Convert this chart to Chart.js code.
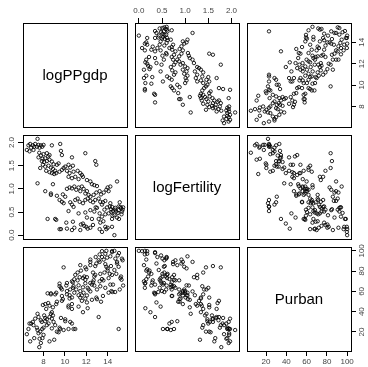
<!DOCTYPE html>
<html><head><meta charset="utf-8">
<script src="https://cdn.jsdelivr.net/npm/chart.js@4"></script>
<style>
html,body{margin:0;padding:0;background:#fff;}
#wrap{position:relative;width:368px;height:367px;overflow:hidden;background:#fff;}
#wrap canvas{position:absolute;left:0;top:0;}
</style>
</head><body><div id="wrap"></div>
<script>
// Variable names (diagonal labels)
const varNames = ['logPPgdp', 'logFertility', 'Purban'];

// Values
const logPPgdp = [
6.44,6.59,6.75,6.84,6.69,7.00,7.13,7.22,7.38,7.06,
7.44,7.44,7.53,7.63,7.75,7.88,7.53,7.75,7.84,7.94,
7.69,7.60,7.90,8.00,8.00,8.31,8.16,8.06,8.31,8.16,
8.47,8.25,8.16,8.38,8.44,8.78,8.56,8.56,8.78,8.94,
8.69,8.88,8.56,8.78,8.88,8.69,8.69,9.09,9.25,9.41,
9.00,9.19,9.25,9.09,9.19,9.56,9.63,9.72,9.50,9.72,
9.88,9.81,9.50,9.72,9.88,9.50,9.63,10.03,10.34,10.50,
10.19,10.44,10.34,10.03,10.19,10.44,10.50,10.34,10.13,10.19,
10.66,10.75,10.81,10.66,10.97,10.66,10.88,10.66,10.97,10.81,
10.75,10.66,10.88,11.19,11.44,11.28,11.06,11.28,11.44,11.19,
11.38,11.28,11.50,11.44,11.91,11.69,11.59,11.59,11.75,11.91,
11.69,11.91,11.91,11.69,11.81,12.00,12.06,12.38,12.06,12.22,
12.38,12.13,12.38,12.38,12.06,12.13,12.38,12.84,12.94,12.53,
12.75,12.69,12.94,12.63,12.84,12.75,12.53,12.63,12.88,13.00,
13.25,13.38,13.16,13.31,13.47,13.00,13.25,13.47,13.16,13.31,
13.25,13.47,13.63,13.88,13.56,13.78,13.78,13.78,13.88,14.00,
14.00,13.70,13.95,13.60,14.09,14.25,14.25,14.41,14.31,14.09,
14.41,14.41,14.20,14.35,14.45,14.88,14.50,14.72,14.81,14.63,
14.88,14.63,14.70,14.95,15.03,15.19,15.13,15.34,15.06,15.25,
15.40,15.03,15.30,15.45
];
const logFertility = [
1.84,1.94,1.97,1.89,1.81,1.94,1.91,1.97,1.91,1.84,
2.08,1.12,1.95,1.89,1.94,1.91,1.68,1.72,1.60,1.52,
1.45,1.78,1.65,1.95,1.75,1.77,1.66,1.58,1.60,1.48,
1.50,1.39,0.95,0.35,1.70,1.94,1.73,1.63,1.59,1.53,
1.46,1.43,1.36,1.34,1.10,0.90,0.87,1.39,1.52,1.55,
1.32,1.34,0.85,0.35,0.33,1.97,1.82,1.73,1.37,1.41,
1.45,0.88,0.76,0.72,0.69,0.13,0.13,1.48,1.52,1.46,
1.39,1.34,1.26,0.83,1.00,1.03,0.71,0.52,0.27,0.14,
1.68,1.50,1.37,1.23,1.26,1.01,1.05,0.66,0.76,0.61,
0.29,0.11,0.16,1.39,1.34,1.21,0.98,1.03,0.95,0.79,
0.72,0.47,0.23,0.11,1.77,1.26,1.30,1.05,1.00,0.90,
0.69,0.76,0.49,0.25,0.20,0.18,1.19,1.16,0.95,0.87,
0.83,0.79,0.74,0.54,0.38,0.14,0.16,1.60,1.52,1.10,
1.08,0.87,0.92,0.71,0.76,0.51,0.35,0.22,0.60,1.06,
0.95,0.88,0.79,0.72,0.66,0.59,0.47,0.40,0.35,0.27,
0.13,0.07,0.92,0.98,0.71,0.74,0.45,0.18,0.13,1.03,
0.16,0.55,0.60,0.30,0.95,1.05,0.69,0.61,0.56,0.47,
0.35,0.18,0.62,0.50,0.42,1.16,0.52,0.59,0.51,0.43,
0.38,0.00,0.55,0.48,0.54,0.61,0.71,0.51,0.35,0.58,
0.55,0.62,0.45,0.60
];
const Purban = [
17.8,22.9,10.7,28.3,28.3,29.9,13.9,33.1,24.2,26.7,
21.9,37.9,18.7,13.3,9.1,22.9,34.7,31.5,29.9,46.6,
20.3,5.0,13.9,17.1,24.2,26.7,33.8,36.3,32.5,30.6,
28.3,42.7,47.5,58.1,48.5,23.5,34.7,10.7,33.1,29.9,
37.9,36.3,45.9,39.5,44.3,58.1,57.1,26.7,20.3,19.7,
12.3,47.5,49.8,57.1,58.7,22.9,33.8,50.7,24.2,61.9,
83.7,52.3,65.1,55.5,21.9,67.7,63.5,32.5,44.3,61.9,
57.1,53.0,45.9,30.6,60.3,56.2,29.9,22.9,65.8,68.3,
42.7,63.5,65.1,47.5,76.3,54.0,58.7,28.3,22.9,22.9,
68.9,69.9,72.0,78.6,53.9,56.2,61.9,66.0,60.3,70.9,
74.0,45.0,80.5,85.9,83.7,73.1,50.7,56.0,58.7,52.9,
64.0,71.5,68.0,39.5,74.7,81.8,74.0,60.0,56.0,61.9,
85.9,63.5,89.1,68.3,49.1,43.4,91.4,85.0,53.9,51.7,
65.8,70.9,87.5,68.9,76.3,74.7,66.7,78.6,93.9,52.3,
89.1,49.8,90.7,65.1,72.2,61.9,69.9,93.9,34.7,77.3,
96.5,99.7,91.4,84.3,55.5,86.9,63.5,97.1,100,82.7,
80.5,78.6,93.3,70.9,58.7,94.6,66.7,76.3,85.0,73.1,
98.7,99.7,77.3,60.3,59.4,89.1,66.7,92.3,77.3,81.1,
87.5,100,59.4,95.5,84.3,73.1,61.9,92.3,97.8,74.7,
90.7,22.9,71.5,65.8
];

// Tick values and labels
const ppgdpTicks = [8, 10, 12, 14];
const ppgdpTickLabels = ['8', '10', '12', '14'];
const fertilityTicks = [0, 0.5, 1, 1.5, 2];
const fertilityTickLabels = ['0.0', '0.5', '1.0', '1.5', '2.0'];
const purbanTicks = [20, 40, 60, 80, 100];
const purbanTickLabels = ['20', '40', '60', '80', '100'];

// ---- build ----
const series = [logPPgdp, logFertility, Purban];
const ticksOf = [ppgdpTicks, fertilityTicks, purbanTicks];
const labelsOf = [ppgdpTickLabels, fertilityTickLabels, purbanTickLabels];
const yLabelPad = [1.5, 1, -0.5];

const W = 368, H = 367, PANEL = 104, GAP = 8, X0 = 23, Y0 = 23;
const FONT = '"Liberation Sans", Arial, Helvetica, sans-serif';

function rangeOf(a) {
  const lo = Math.min(...a), hi = Math.max(...a), d = (hi - lo) * 0.04;
  return [lo - d, hi + d];
}
const ranges = series.map(rangeOf);

const framePlugin = {
  id: 'frame',
  afterDraw(chart) {
    const a = chart.chartArea, ctx = chart.ctx;
    ctx.save();
    ctx.strokeStyle = '#000';
    ctx.lineWidth = 1;
    ctx.strokeRect(Math.round(a.left) + 0.5, Math.round(a.top) + 0.5,
                   Math.round(a.right - a.left), Math.round(a.bottom - a.top));
    ctx.restore();
  }
};
const diagPlugin = {
  id: 'diag',
  afterDraw(chart, args, opts) {
    if (!opts || !opts.text) return;
    const a = chart.chartArea, ctx = chart.ctx;
    ctx.save();
    ctx.fillStyle = '#000';
    ctx.font = '15px ' + FONT;
    ctx.textAlign = 'center';
    ctx.textBaseline = 'middle';
    ctx.fillText(opts.text, (a.left + a.right) / 2, (a.top + a.bottom) / 2 + 1);
    ctx.restore();
  }
};

function axis(v, which, position, show, size) {
  const isX = which === 'x';
  let pad = 2;
  if (position === 'bottom') pad = 1;
  if (position === 'left') pad = 1;
  if (position === 'right') pad = yLabelPad[v];
  return {
    type: 'linear',
    position: position,
    display: show,
    min: ranges[v][0],
    max: ranges[v][1],
    bounds: 'data',
    afterBuildTicks: s => { s.ticks = ticksOf[v].map(t => ({ value: t })); },
    afterFit: s => { if (isX) s.height = size; else s.width = size; },
    grid: { display: true, drawOnChartArea: false, drawTicks: true, tickLength: 5, color: '#000', lineWidth: 1 },
    border: { display: true, color: '#000', width: 1 },
    ticks: {
      autoSkip: false,
      font: { family: FONT, size: 8 },
      color: '#444',
      padding: pad,
      minRotation: isX ? 0 : 90,
      maxRotation: isX ? 0 : 90,
      crossAlign: isX ? 'near' : 'center',
      callback: (val, i) => labelsOf[v][i]
    }
  };
}

const wrap = document.getElementById('wrap');
const n = varNames.length;
for (let i = 0; i < n; i++) {
  for (let j = 0; j < n; j++) {
    const cv = document.createElement('canvas');
    cv.width = W; cv.height = H;
    cv.style.width = W + 'px'; cv.style.height = H + 'px';
    wrap.appendChild(cv);
    const left = X0 + j * (PANEL + GAP);
    const top = Y0 + i * (PANEL + GAP);
    const showTop = i === 0 && j % 2 === 1;
    const showBottom = i === n - 1 && j % 2 === 0;
    const showLeft = j === 0 && i % 2 === 1;
    const showRight = j === n - 1 && i % 2 === 0;
    const xPos = showTop ? 'top' : 'bottom';
    const yPos = showRight ? 'right' : 'left';
    const pad = { left: left, top: top, right: W - left - PANEL, bottom: H - top - PANEL };
    let xSize = 0, ySize = 0;
    if (showTop) { xSize = pad.top; pad.top = 0; }
    if (showBottom) { xSize = pad.bottom; pad.bottom = 0; }
    if (showLeft) { ySize = pad.left; pad.left = 0; }
    if (showRight) { ySize = pad.right; pad.right = 0; }
    const datasets = [];
    if (i !== j) {
      datasets.push({
        data: series[j].map((x, k) => ({ x: x, y: series[i][k] })),
        pointStyle: 'circle',
        pointRadius: 1.7,
        pointBorderWidth: 0.85,
        pointBorderColor: '#000',
        pointBackgroundColor: 'rgba(0,0,0,0)',
        showLine: false
      });
    }
    new Chart(cv, {
      type: 'scatter',
      data: { datasets: datasets },
      plugins: [framePlugin, diagPlugin],
      options: {
        responsive: false,
        animation: false,
        devicePixelRatio: 1,
        events: [],
        layout: { padding: pad },
        plugins: {
          legend: { display: false },
          tooltip: { enabled: false },
          title: { display: false },
          diag: { text: i === j ? varNames[i] : '' }
        },
        scales: {
          x: axis(j, 'x', xPos, showTop || showBottom, xSize),
          y: axis(i, 'y', yPos, showLeft || showRight, ySize)
        }
      }
    });
  }
}
</script>
</body></html>
